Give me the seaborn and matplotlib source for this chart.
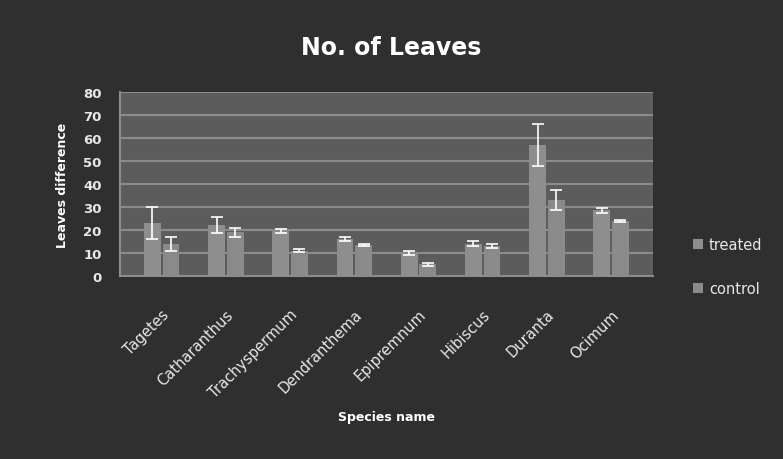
import pandas as pd
import numpy as np
import matplotlib.pyplot as plt
import seaborn as sns

species = ['Tagetes', 'Catharanthus', 'Trachyspermum', 'Dendranthema',
           'Epipremnum', 'Hibiscus', 'Duranta', 'Ocimum']
treated = [23, 22, 19.5, 16, 10, 14, 57, 28.5]
control = [14, 19, 11, 13.5, 5, 13, 33, 24]
treated_err = [7, 3.5, 0.8, 1, 0.8, 1, 9, 1]
control_err = [3, 2, 0.5, 0.5, 0.5, 0.8, 4.5, 0.5]

df = pd.DataFrame({
    'Species': species * 2,
    'Leaves': treated + control,
    'group': ['treated'] * len(species) + ['control'] * len(species),
})

bg = '#2f2f2f'
fig = plt.figure(figsize=(7.83, 4.6), dpi=100, facecolor=bg)
ax = fig.add_axes([0.153, 0.398, 0.681, 0.40])
ax.set_facecolor('#5c5c5c')

sns.barplot(data=df, x='Species', y='Leaves', hue='group',
            palette={'treated': '#8e8e8e', 'control': '#8a8a8a'},
            width=0.58, gap=0.1, errorbar=None, ax=ax, zorder=3)

# error bars on top of each bar
errs = treated_err + control_err
for p, e in zip(ax.patches[:len(errs)], errs):
    ax.errorbar(p.get_x() + p.get_width() / 2, p.get_height(), yerr=e,
                fmt='none', ecolor='white', elinewidth=1.2, capsize=4,
                capthick=1.2, zorder=4)

ax.set_ylim(0, 80)
ax.set_yticks(range(0, 81, 10))
ax.yaxis.grid(True, color='#8c8c8c', linewidth=1.5, zorder=0)
ax.set_axisbelow(True)
for s in ['top', 'right']:
    ax.spines[s].set_visible(False)
ax.spines['left'].set_color('#8c8c8c')
ax.spines['bottom'].set_color('#8c8c8c')
ax.spines['left'].set_linewidth(1.5)
ax.spines['bottom'].set_linewidth(1.5)

ax.tick_params(axis='y', colors='#e8e8e8', length=0, labelsize=9.5, pad=13)
ax.tick_params(axis='x', colors='#e8e8e8', length=0, pad=22)
for lab in ax.get_yticklabels():
    lab.set_fontweight('bold')
ax.set_xticks(range(len(species)))
ax.set_xticklabels(species, rotation=45, ha='right', rotation_mode='anchor',
                   color='#e8e8e8', fontsize=10.5)

ax.set_xlabel('Species name', color='white', fontsize=9, fontweight='bold', labelpad=7)
ax.set_ylabel('Leaves difference', color='white', fontsize=9, fontweight='bold', labelpad=10)

fig.text(0.5, 0.895, 'No. of Leaves', ha='center', va='center',
         color='white', fontsize=17, fontweight='bold')

leg = ax.legend(loc='center left', bbox_to_anchor=(1.05, 0.05), frameon=False,
                labelspacing=2.0, handlelength=0.7, handleheight=0.7,
                handletextpad=0.4, fontsize=10.5)
for t in leg.get_texts():
    t.set_color('#e8e8e8')

fig.savefig('out.png', dpi=100, facecolor=bg)
